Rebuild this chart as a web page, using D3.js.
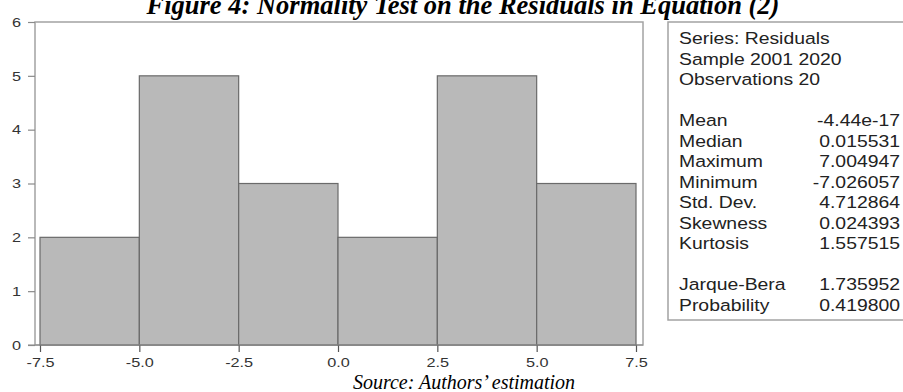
<!DOCTYPE html>
<html>
<head>
<meta charset="utf-8">
<script src="https://cdn.jsdelivr.net/npm/d3@7"></script>
<style>
  body { margin: 0; background: #fff; }
  svg { display: block; }
</style>
</head>
<body>
<svg></svg>
<script>
/* Histogram of residuals with stats box */
var w = 903, h = 392;

var binEdges = [-7.5, -5.0, -2.5, 0.0, 2.5, 5.0, 7.5];
var counts = [2, 5, 3, 2, 5, 3];
var yTicks = [0, 1, 2, 3, 4, 5, 6];
var xTicks = [-7.5, -5.0, -2.5, 0.0, 2.5, 5.0, 7.5];

var headerLines = ["Series: Residuals", "Sample 2001 2020", "Observations 20"];
var statNames = ["Mean", "Median", "Maximum", "Minimum", "Std. Dev.", "Skewness", "Kurtosis", "", "Jarque-Bera", "Probability"];
var statValues = ["-4.44e-17", "0.015531", "7.004947", "-7.026057", "4.712864", "0.024393", "1.557515", "", "1.735952", "0.419800"];

var titleText = "Figure 4: Normality Test on the Residuals in Equation (2)";
var sourceText = "Source: Authors\u2019 estimation";

var svg = d3.select("svg")
            .attr("width", w)
            .attr("height", h);

var x = d3.scaleLinear().domain([-7.5, 7.5]).range([40, 636]);
var y = d3.scaleLinear().domain([0, 6]).range([345, 22]);

var sansFont = "'Liberation Sans', Arial, sans-serif";
var serifFont = "'Liberation Serif', 'Times New Roman', serif";
var sx = 1.25; // tick labels look stretched sideways

// plot frame
svg.append("rect")
   .attr("x", 35).attr("y", 22)
   .attr("width", 643 - 35).attr("height", 345 - 22)
   .attr("fill", "none")
   .attr("stroke", "#a3a3a3")
   .attr("stroke-width", 1.5);

// bars
var bins = counts.map(function(c, i) { return {x0: binEdges[i], x1: binEdges[i + 1], n: c}; });
svg.append("g")
   .selectAll("rect")
   .data(bins)
   .enter()
   .append("rect")
   .attr("x", function(d) { return x(d.x0); })
   .attr("y", function(d) { return y(d.n); })
   .attr("width", function(d) { return x(d.x1) - x(d.x0); })
   .attr("height", function(d) { return y(0) - y(d.n); })
   .attr("fill", "#b9b9b9")
   .attr("stroke", "#6a6a6a")
   .attr("stroke-width", 1.2);

// y axis
var yAxis = svg.append("g")
   .attr("transform", "translate(35,0)")
   .call(d3.axisLeft(y).tickValues(yTicks).tickSize(7).tickPadding(7).tickFormat(d3.format("d")));
yAxis.select(".domain").remove();
yAxis.selectAll("line").attr("stroke", "#8a8a8a").attr("stroke-width", 1.2);
yAxis.selectAll("text")
   .attr("fill", "#333")
   .style("font-family", sansFont)
   .style("font-size", "13px")
   .attr("x", -14 / sx)
   .attr("transform", "scale(" + sx + ",1)");

// x axis
var xAxis = svg.append("g")
   .attr("transform", "translate(0,345)")
   .call(d3.axisBottom(x).tickValues(xTicks).tickSize(7).tickPadding(6)
           .tickFormat(function(d) { return d3.format(".1f")(d).replace("\u2212", "-"); }));
xAxis.select(".domain").remove();
xAxis.selectAll("line").attr("stroke", "#555").attr("stroke-width", 1.2);
xAxis.selectAll("text")
   .attr("fill", "#333")
   .style("font-family", sansFont)
   .style("font-size", "13px")
   .attr("transform", "scale(" + sx + ",1)");

// base line under the bars
svg.append("line")
   .attr("x1", 28).attr("x2", 643)
   .attr("y1", y(0)).attr("y2", y(0))
   .attr("stroke", "#8a8a8a").attr("stroke-width", 1.2);

// stats box
svg.append("rect")
   .attr("x", 668).attr("y", 22)
   .attr("width", 260).attr("height", 320 - 22)
   .attr("fill", "#fff")
   .attr("stroke", "#a3a3a3")
   .attr("stroke-width", 1.5);

var lineH = 20.5, tsx = 1.14;
var stats = svg.append("g").style("font-family", sansFont).style("font-size", "17px").attr("fill", "#222");

headerLines.forEach(function(t, i) {
  stats.append("text")
       .attr("transform", "translate(679," + (44 + i * lineH) + ") scale(" + tsx + ",1)")
       .text(t);
});
statNames.forEach(function(t, i) {
  var yy = 44 + (i + 4) * lineH;
  if (t === "") return;
  stats.append("text")
       .attr("transform", "translate(679," + yy + ") scale(" + tsx + ",1)")
       .text(t);
  stats.append("text")
       .attr("transform", "translate(900," + yy + ") scale(" + tsx + ",1)")
       .attr("text-anchor", "end")
       .text(statValues[i]);
});

// title (its top is cut off in the source figure) and source note
svg.append("text")
   .attr("x", 463).attr("y", 14)
   .attr("text-anchor", "middle")
   .style("font-family", serifFont)
   .style("font-size", "26.5px")
   .style("font-weight", "bold")
   .style("font-style", "italic")
   .text(titleText);

svg.append("text")
   .attr("x", 464).attr("y", 389)
   .attr("text-anchor", "middle")
   .style("font-family", serifFont)
   .style("font-size", "20px")
   .style("font-style", "italic")
   .text(sourceText);
</script>
</body>
</html>
